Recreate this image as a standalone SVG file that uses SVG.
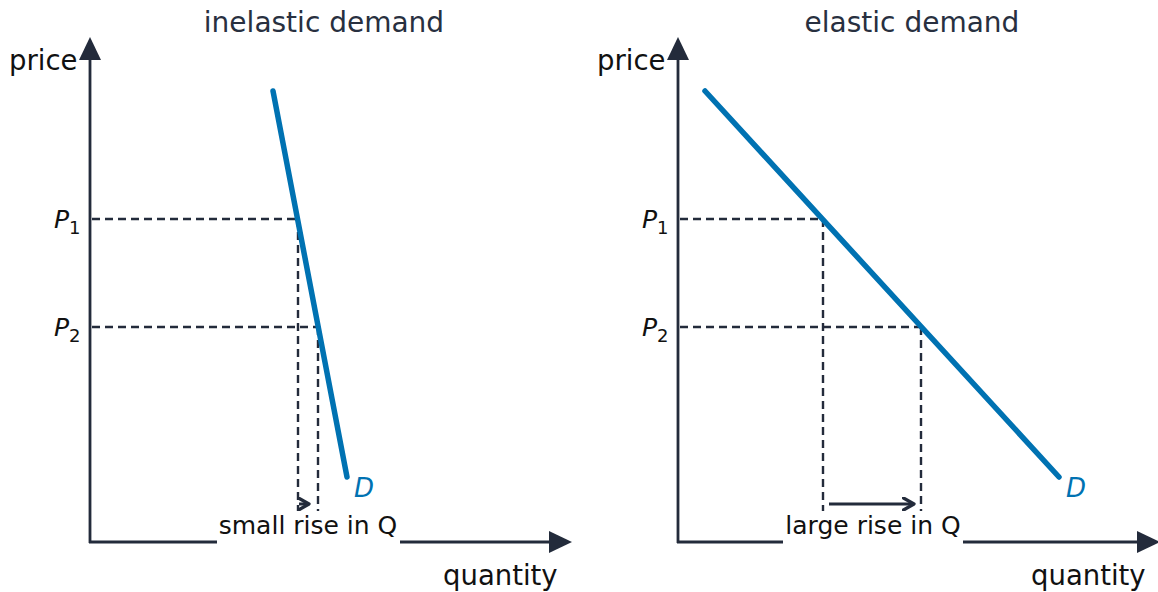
<svg xmlns="http://www.w3.org/2000/svg" width="1158" height="592" viewBox="0 0 1158 592">
<style>
text{font-family:"DejaVu Sans",sans-serif;fill:#1a1f2b}
.ax{stroke:#232b3b;stroke-width:2.8;fill:none}
.dash{stroke:#232b3b;stroke-width:2.4;stroke-dasharray:8 5;fill:none}
.dem{stroke:#0072b2;stroke-width:5.5;stroke-linecap:round;fill:none}
.head{fill:#232b3b}
.arr{stroke:#232b3b;stroke-width:3;fill:none}
.lbl{font-size:27.5px;fill:#111}
.rise{font-size:25px;fill:#111}
.p{font-size:25px;font-style:italic;fill:#111}
.d{font-size:26px;font-style:italic;fill:#0072b2}
.title{font-size:28px;fill:#283040}
</style>
<defs>
<marker id="chev" viewBox="0 0 10 10" refX="8" refY="5" markerWidth="5" markerHeight="5" orient="auto" markerUnits="strokeWidth">
<path d="M1,1 L8,5 L1,9" fill="none" stroke="#232b3b" stroke-width="2.2" stroke-linecap="round" stroke-linejoin="round"/>
</marker>
</defs>
<g id="left-chart">
<text class="title" x="324" y="32" text-anchor="middle">inelastic demand</text>
<g id="left-axes">
<line class="ax" x1="90" y1="543" x2="90" y2="58"/>
<line class="ax" x1="89" y1="542" x2="552" y2="542"/>
<polygon class="head" points="90,37 101,60 79,60"/>
<polygon class="head" points="572,542 549,531 549,553"/>
<text class="lbl" x="9" y="70">price</text>
<text class="lbl" x="443" y="585">quantity</text>
</g>
<g id="left-guides">
<line class="dash" x1="92" y1="219" x2="298" y2="219"/>
<line class="dash" x1="92" y1="327" x2="318" y2="327"/>
<line class="dash" x1="298" y1="219" x2="298" y2="512"/>
<line class="dash" x1="318" y1="327" x2="318" y2="512"/>
<text class="p" x="54" y="228">P<tspan font-size="18" font-style="normal" dy="6">1</tspan></text>
<text class="p" x="54" y="336">P<tspan font-size="18" font-style="normal" dy="6">2</tspan></text>
</g>
<g id="left-demand">
<line class="dem" x1="273" y1="91" x2="347" y2="477"/>
<text class="d" x="354" y="497">D</text>
</g>
<g id="left-rise">
<line class="arr" x1="299" y1="504" x2="309" y2="504" marker-end="url(#chev)"/>
<rect x="217" y="511" width="183" height="34" fill="#fff"/>
<text class="rise" x="308" y="534" text-anchor="middle">small rise in Q</text>
</g>
</g>
<g id="right-chart">
<text class="title" x="912" y="32" text-anchor="middle">elastic demand</text>
<g id="right-axes">
<line class="ax" x1="678" y1="543" x2="678" y2="58"/>
<line class="ax" x1="677" y1="542" x2="1140" y2="542"/>
<polygon class="head" points="678,37 689,60 667,60"/>
<polygon class="head" points="1160,542 1137,531 1137,553"/>
<text class="lbl" x="597" y="70">price</text>
<text class="lbl" x="1031" y="585">quantity</text>
</g>
<g id="right-guides">
<line class="dash" x1="680" y1="219" x2="823" y2="219"/>
<line class="dash" x1="680" y1="327" x2="921" y2="327"/>
<line class="dash" x1="823" y1="219" x2="823" y2="512"/>
<line class="dash" x1="921" y1="327" x2="921" y2="512"/>
<text class="p" x="642" y="228">P<tspan font-size="18" font-style="normal" dy="6">1</tspan></text>
<text class="p" x="642" y="336">P<tspan font-size="18" font-style="normal" dy="6">2</tspan></text>
</g>
<g id="right-demand">
<line class="dem" x1="705" y1="91" x2="1059" y2="477"/>
<text class="d" x="1066" y="497">D</text>
</g>
<g id="right-rise">
<line class="arr" x1="829" y1="504" x2="914" y2="504" marker-end="url(#chev)"/>
<rect x="783" y="511" width="180" height="34" fill="#fff"/>
<text class="rise" x="873" y="534" text-anchor="middle">large rise in Q</text>
</g>
</g>
</svg>
